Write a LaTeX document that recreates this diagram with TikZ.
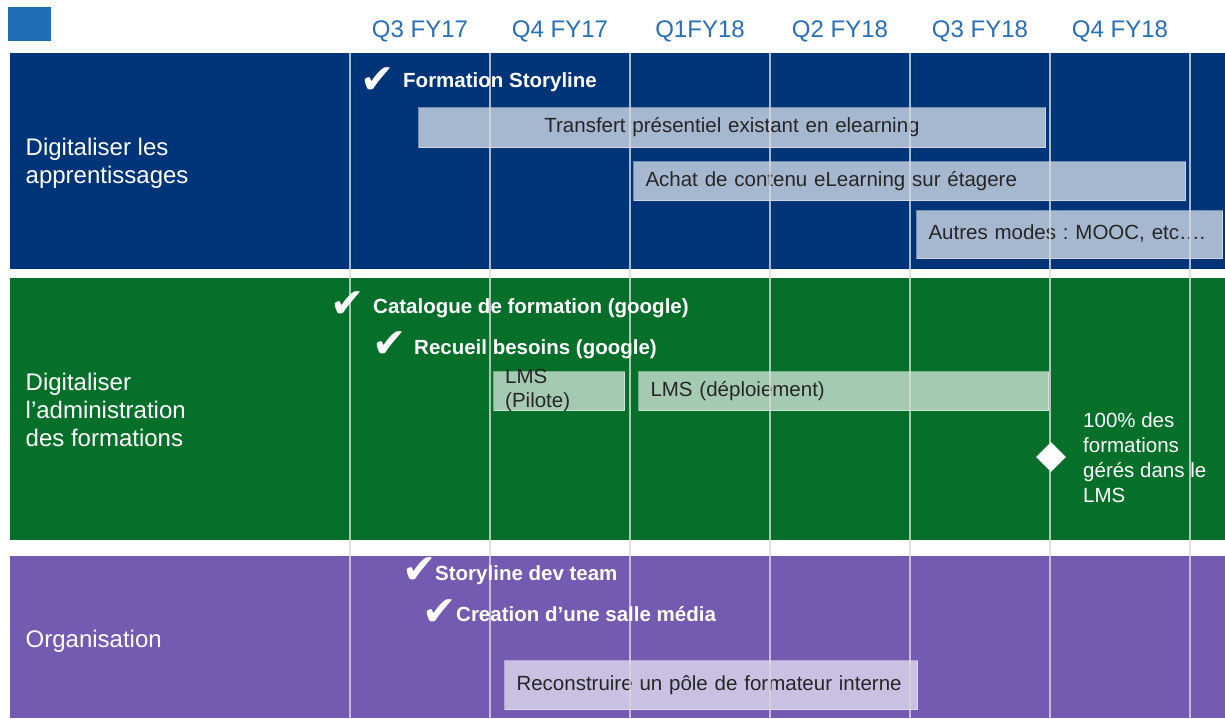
\documentclass[tikz,border=0pt]{standalone}
\usepackage{fontspec}
\setmainfont{Liberation Sans}
\newfontfamily\tickfont{DejaVu Sans}
\usepackage{xcolor}
\usepackage{tikz}
\usetikzlibrary{shapes.geometric}

\definecolor{bandblue}{RGB}{0,52,120}
\definecolor{bandgreen}{RGB}{6,112,42}
\definecolor{bandpurple}{RGB}{116,90,176}
\definecolor{barblue}{RGB}{166,184,207}
\definecolor{bargreen}{RGB}{165,202,178}
\definecolor{barpurple}{RGB}{202,192,226}
\definecolor{headblue}{RGB}{40,110,185}
\definecolor{cornerblue}{RGB}{31,110,179}
\definecolor{gridgrey}{RGB}{217,217,217}

\begin{document}
\frenchspacing
\begin{tikzpicture}[x=1pt,y=-1pt,
  rowlabel/.style={anchor=base west, inner sep=0pt, text=white, align=left, font=\fontsize{24}{28}\selectfont},
  quarter/.style={anchor=base, inner sep=0pt, text=headblue, font=\fontsize{24}{28}\selectfont},
  done/.style={anchor=base west, inner sep=0pt, text=white, font=\bfseries\fontsize{20.5}{24}\selectfont},
  tick/.style={anchor=base west, inner sep=0pt, text=white, font=\tickfont\fontsize{41}{41}\selectfont},
  bar/.style={anchor=north west, inner xsep=12pt, inner ysep=0pt, draw=white, draw opacity=0.45, line width=1pt,
    text height=15pt, text depth=4.5pt, align=left, text=black!85, font=\fontsize{20.5}{24}\selectfont},
  gridline/.style={gridgrey, opacity=0.8, line width=1.5pt}
]
\useasboundingbox (0,0) rectangle (1225,718);

%% bands
\fill[cornerblue] (8,7) rectangle (51,41);
\fill[bandblue] (10,53) rectangle (1225,269);
\fill[bandgreen] (10,278) rectangle (1225,540);
\fill[bandpurple] (10,556) rectangle (1225,718);

% nodes

%% quarters
\foreach \q [count=\i from 0] in {Q3 FY17, Q4 FY17, Q1FY18, Q2 FY18, Q3 FY18, Q4 FY18}
  \node[quarter] (q\i) at (420+140*\i,37) {\q};

%% row labels (base = last line)
\node[rowlabel] (appr) at (25.5,183) {Digitaliser les\\apprentissages};
\node[rowlabel] (admin) at (25.5,446) {Digitaliser\\l’administration\\des formations};
\node[rowlabel] (orga) at (25.5,647) {Organisation};

%% bars
\node[bar, fill=barblue, minimum width=627pt, minimum height=40pt, text width=603pt, align=center] (transfert) at (418,107) {Transfert présentiel existant en elearning};
\node[bar, fill=barblue, minimum width=552pt, minimum height=39pt, text width=528pt] (achat) at (633,161) {Achat de contenu eLearning sur étagere};
\node[bar, fill=barblue, minimum width=306pt, minimum height=48pt, text width=282pt] (autres) at (916,210) {Autres modes : MOOC, etc….};
\node[bar, fill=bargreen, minimum width=131pt, minimum height=39pt] (pilote) at (493,371) {};
\node[anchor=base west, inner sep=0pt, align=left, text=black!85, font=\fontsize{20.5}{24}\selectfont] (pilotetxt) at (505,407) {LMS\\(Pilote)};
\node[bar, fill=bargreen, minimum width=410pt, minimum height=39pt, text width=386pt] (deploi) at (638,371) {LMS (déploiement)};
\node[bar, fill=barpurple, minimum width=413pt, minimum height=49pt, text width=389pt] (pole) at (504,660) {Reconstruire un pôle de formateur interne};

%% lines
\foreach \x in {350,490,630,770,910,1050,1190}
  \draw[gridline] (\x,53) -- (\x,718);

%% done items
\node[tick] (t1) at (360,93) {✔};
\node[done] (storyline) at (403,87) {Formation Storyline};
\node[tick] (t2) at (330,317) {✔};
\node[done] (catalogue) at (373,313) {Catalogue de formation (google)};
\node[tick] (t3) at (372,357) {✔};
\node[done] (besoins) at (414,354) {Recueil besoins (google)};
\node[tick] (t4) at (402,583) {✔};
\node[done] (devteam) at (435,580) {Storyline dev team};
\node[tick] (t5) at (422,625) {✔};
\node[done] (media) at (456,621) {Creation d’une salle média};

%% milestone
\node[diamond, fill=white, inner sep=0pt, minimum width=30pt, minimum height=30pt] (lms) at (1051,457) {};
\node[anchor=base west, inner sep=0pt, align=left, text=white, font=\fontsize{20.5}{25}\selectfont] (lmstxt) at (1083,502) {100\% des\\formations\\gérés dans le\\LMS};

\end{tikzpicture}
\end{document}
